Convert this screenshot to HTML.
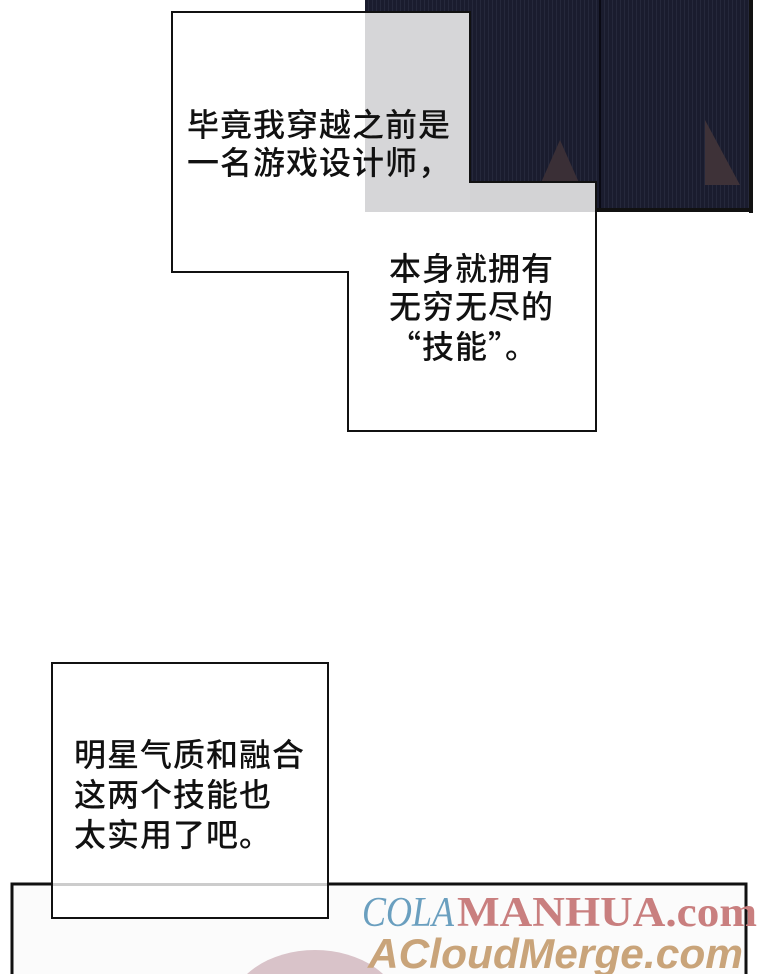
<!DOCTYPE html>
<html><head><meta charset="utf-8"><style>
html,body{margin:0;padding:0;background:#fff;width:760px;height:974px;overflow:hidden;}
body{position:relative;font-family:"Liberation Sans","Noto Sans CJK SC",sans-serif;}
.t{position:absolute;font-size:32px;line-height:38px;color:#111;letter-spacing:1px;white-space:nowrap;font-weight:500;}
.c{font-family:"Noto Sans CJK SC",sans-serif;}
</style></head><body>
<svg width="760" height="974" style="position:absolute;left:0;top:0;overflow:hidden">
  <defs>
    <pattern id="st" width="4" height="10" patternUnits="userSpaceOnUse">
      <rect width="4" height="10" fill="#1a1c2e"/>
      <rect width="1" height="10" fill="#25283b"/>
    </pattern>
  </defs>
  <rect x="365" y="0" width="388" height="212" fill="url(#st)"/>
  <polygon points="560,140 580,185 540,185" fill="#3a2f36"/>
  <polygon points="705,120 740,185 705,185" fill="#3e3238"/>
  <line x1="600" y1="0" x2="600" y2="212" stroke="#0a0a14" stroke-width="2"/>
  <rect x="749" y="0" width="4" height="213" fill="#111"/>
  <rect x="365" y="208" width="388" height="4" fill="#111"/>
  <rect x="365" y="12" width="105" height="200" fill="#d6d6d8"/>
  <rect x="470" y="182" width="126" height="30" fill="#d3d3d5"/>
  <rect x="173" y="13" width="192" height="259" fill="#fff"/>
  <rect x="365" y="212" width="105" height="60" fill="#fff"/>
  <rect x="349" y="212" width="246" height="218" fill="#fff"/>
  <polygon points="172,12 470,12 470,182 596,182 596,431 348,431 348,272 172,272" fill="none" stroke="#111" stroke-width="2"/>
  <rect x="12" y="884" width="734" height="100" fill="#fbfbfb" stroke="#111" stroke-width="3"/>
  <ellipse cx="315" cy="1010" rx="85" ry="60" fill="#d9c3c9"/>
  <rect x="52" y="663" width="276" height="255" fill="#fff" stroke="#111" stroke-width="2"/>
  <rect x="53" y="883" width="274" height="3" fill="#ccc"/>
  <text x="362" y="926" font-family="Liberation Serif,serif" font-style="italic" font-size="42" fill="#6a9fbf" textLength="92" lengthAdjust="spacingAndGlyphs">COLA</text>
  <text x="457" y="926" font-family="Liberation Serif,serif" font-weight="bold" font-size="42" fill="#c97f7f" textLength="300" lengthAdjust="spacingAndGlyphs">MANHUA.com</text>
  <text x="368" y="968" font-family="Liberation Sans,sans-serif" font-weight="bold" font-style="italic" font-size="42" fill="#c9a47a" textLength="375" lengthAdjust="spacingAndGlyphs">ACloudMerge.com</text>
</svg>
<div class="t" style="left:187px;top:106px">毕竟我穿越之前是<br>一名游戏设计师，</div>
<div class="t" style="left:389px;top:250px">本身就拥有<br>无穷无尽的<br><span class="c">“技能”。</span></div>
<div class="t" style="left:74px;top:735px;line-height:40px">明星气质和融合<br>这两个技能也<br>太实用了吧。</div>
</body></html>
